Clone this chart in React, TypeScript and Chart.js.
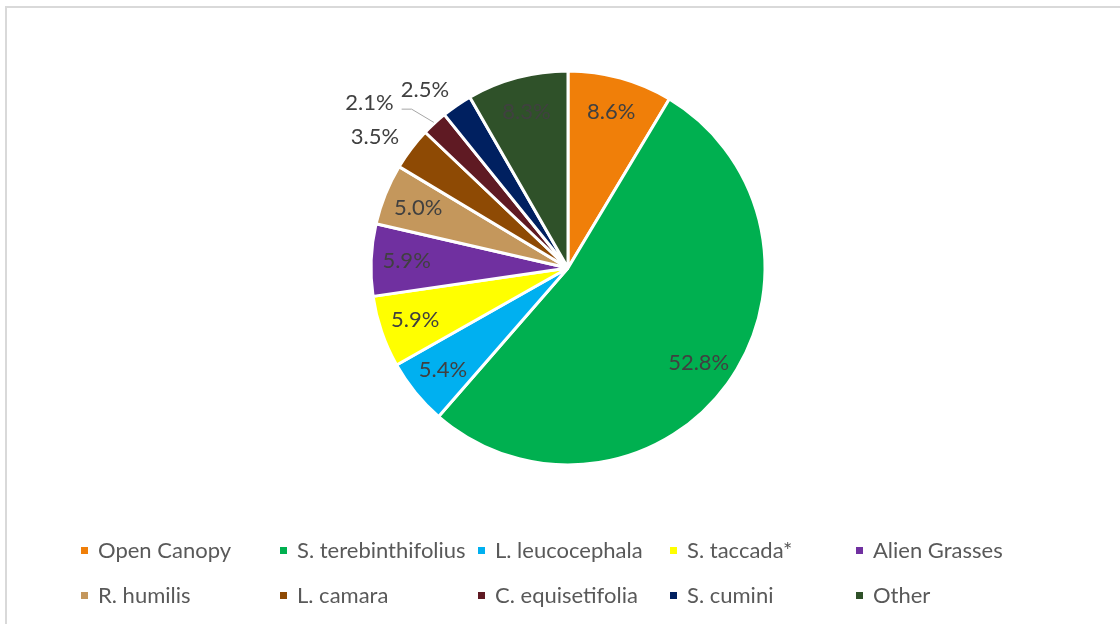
import React, { useEffect, useRef } from "react";
import { Chart, registerables } from "chart.js";

Chart.register(...registerables);

const categories = [
  "Open Canopy",
  "S. terebinthifolius",
  "L. leucocephala",
  "S. taccada*",
  "Alien Grasses",
  "R. humilis",
  "L. camara",
  "C. equisetifolia",
  "S. cumini",
  "Other",
];
const shares = [8.6, 52.8, 5.4, 5.9, 5.9, 5.0, 3.5, 2.1, 2.5, 8.3];
const sliceColors = [
  "#F07F09",
  "#00B050",
  "#00B0F0",
  "#FFFF00",
  "#7030A0",
  "#C4975C",
  "#8E4A04",
  "#5F1A23",
  "#002060",
  "#2F5129",
];

const FONT = "Lato, 'Open Sans', sans-serif";
const legendColumns = [199, 198, 192, 186, 200];

const sliceLabelPlugin = {
  id: "sliceLabels",
  afterDatasetsDraw(chart: any, _args: any, opts: any) {
    const ctx = chart.ctx;
    const meta = chart.getDatasetMeta(0);
    const data = chart.data.datasets[0].data as number[];
    const total = data.reduce((a, b) => a + b, 0);
    ctx.save();
    ctx.font = `${opts.size}px ${FONT}`;
    ctx.textAlign = "center";
    ctx.textBaseline = "middle";
    meta.data.forEach((arc: any, i: number) => {
      const { startAngle, endAngle, outerRadius, x, y } = arc.getProps(
        ["startAngle", "endAngle", "outerRadius", "x", "y"],
        true
      );
      const mid = (startAngle + endAngle) / 2;
      const pct = (data[i] / total) * 100;
      const text = pct.toFixed(1) + "%";
      const w = ctx.measureText(text).width;
      let cx: number;
      let cy: number;
      if (pct >= opts.insideMin) {
        cx = x + Math.cos(mid) * outerRadius * opts.insideFrac;
        cy = y + Math.sin(mid) * outerRadius * opts.insideFrac;
      } else {
        const r = outerRadius + opts.outsideGap;
        const px = x + Math.cos(mid) * r;
        const py = y + Math.sin(mid) * r;
        cx = px + Math.sign(Math.cos(mid)) * (w / 2 - 3);
        cy = py;
        const shift = opts.moved[i];
        if (shift) {
          cx += shift[0];
          cy += shift[1];
          const sx = cx + w / 2 + 8;
          const sy = cy + 6;
          const ex = x + Math.cos(mid) * (outerRadius + 1);
          const ey = y + Math.sin(mid) * (outerRadius + 1);
          ctx.strokeStyle = "#A6A6A6";
          ctx.lineWidth = 1;
          ctx.beginPath();
          ctx.moveTo(sx, sy);
          ctx.lineTo(sx + 10, sy);
          ctx.lineTo(ex, ey);
          ctx.stroke();
        }
      }
      ctx.fillStyle = opts.color;
      ctx.fillText(text, cx, cy);
    });
    ctx.restore();
  },
};

export default function App() {
  const canvasRef = useRef<HTMLCanvasElement | null>(null);

  useEffect(() => {
    if (!canvasRef.current) return;
    const chart = new Chart(canvasRef.current, {
      type: "pie",
      data: {
        labels: categories,
        datasets: [
          {
            data: shares,
            backgroundColor: sliceColors,
            borderColor: "#FFFFFF",
            borderWidth: 3,
          },
        ],
      },
      options: {
        responsive: false,
        maintainAspectRatio: false,
        animation: false,
        radius: 197,
        layout: { padding: { left: 16, right: 0, top: 0, bottom: 88 } },
        plugins: {
          legend: { display: false },
          tooltip: { enabled: false },
          sliceLabels: {
            size: 22,
            color: "#404040",
            insideMin: 4,
            insideFrac: 0.82,
            outsideGap: 19,
            moved: { 7: [-31, -6] },
          },
        } as any,
      },
      plugins: [sliceLabelPlugin],
    });
    return () => chart.destroy();
  }, []);

  const rows = [categories.slice(0, 5), categories.slice(5, 10)];

  return (
    <div
      style={{
        position: "absolute",
        left: 0,
        top: 0,
        width: 1120,
        height: 624,
        overflow: "hidden",
        background: "#FFFFFF",
      }}
    >
      <div
        style={{
          position: "absolute",
          left: 5,
          top: 6,
          width: 1400,
          height: 900,
          border: "2px solid #D9D9D9",
          boxSizing: "border-box",
        }}
      />
      <canvas
        ref={canvasRef}
        width={1120}
        height={624}
        style={{ position: "absolute", left: 0, top: 0, width: 1120, height: 624 }}
      />
      {rows.map((row, r) => (
        <div
          key={r}
          style={{
            position: "absolute",
            left: 81,
            top: 550 + r * 45 - 15,
            height: 30,
            display: "flex",
            alignItems: "center",
          }}
        >
          {row.map((name, c) => {
            const idx = r * 5 + c;
            return (
              <div
                key={name}
                style={{
                  width: legendColumns[c],
                  display: "flex",
                  alignItems: "center",
                }}
              >
                <span
                  style={{
                    display: "inline-block",
                    width: 7,
                    height: 7,
                    background: sliceColors[idx],
                    marginRight: 10,
                  }}
                />
                <span
                  style={{
                    fontFamily: FONT,
                    fontSize: 22,
                    color: "#595959",
                    whiteSpace: "nowrap",
                    lineHeight: "30px",
                  }}
                >
                  {name}
                </span>
              </div>
            );
          })}
        </div>
      ))}
    </div>
  );
}
